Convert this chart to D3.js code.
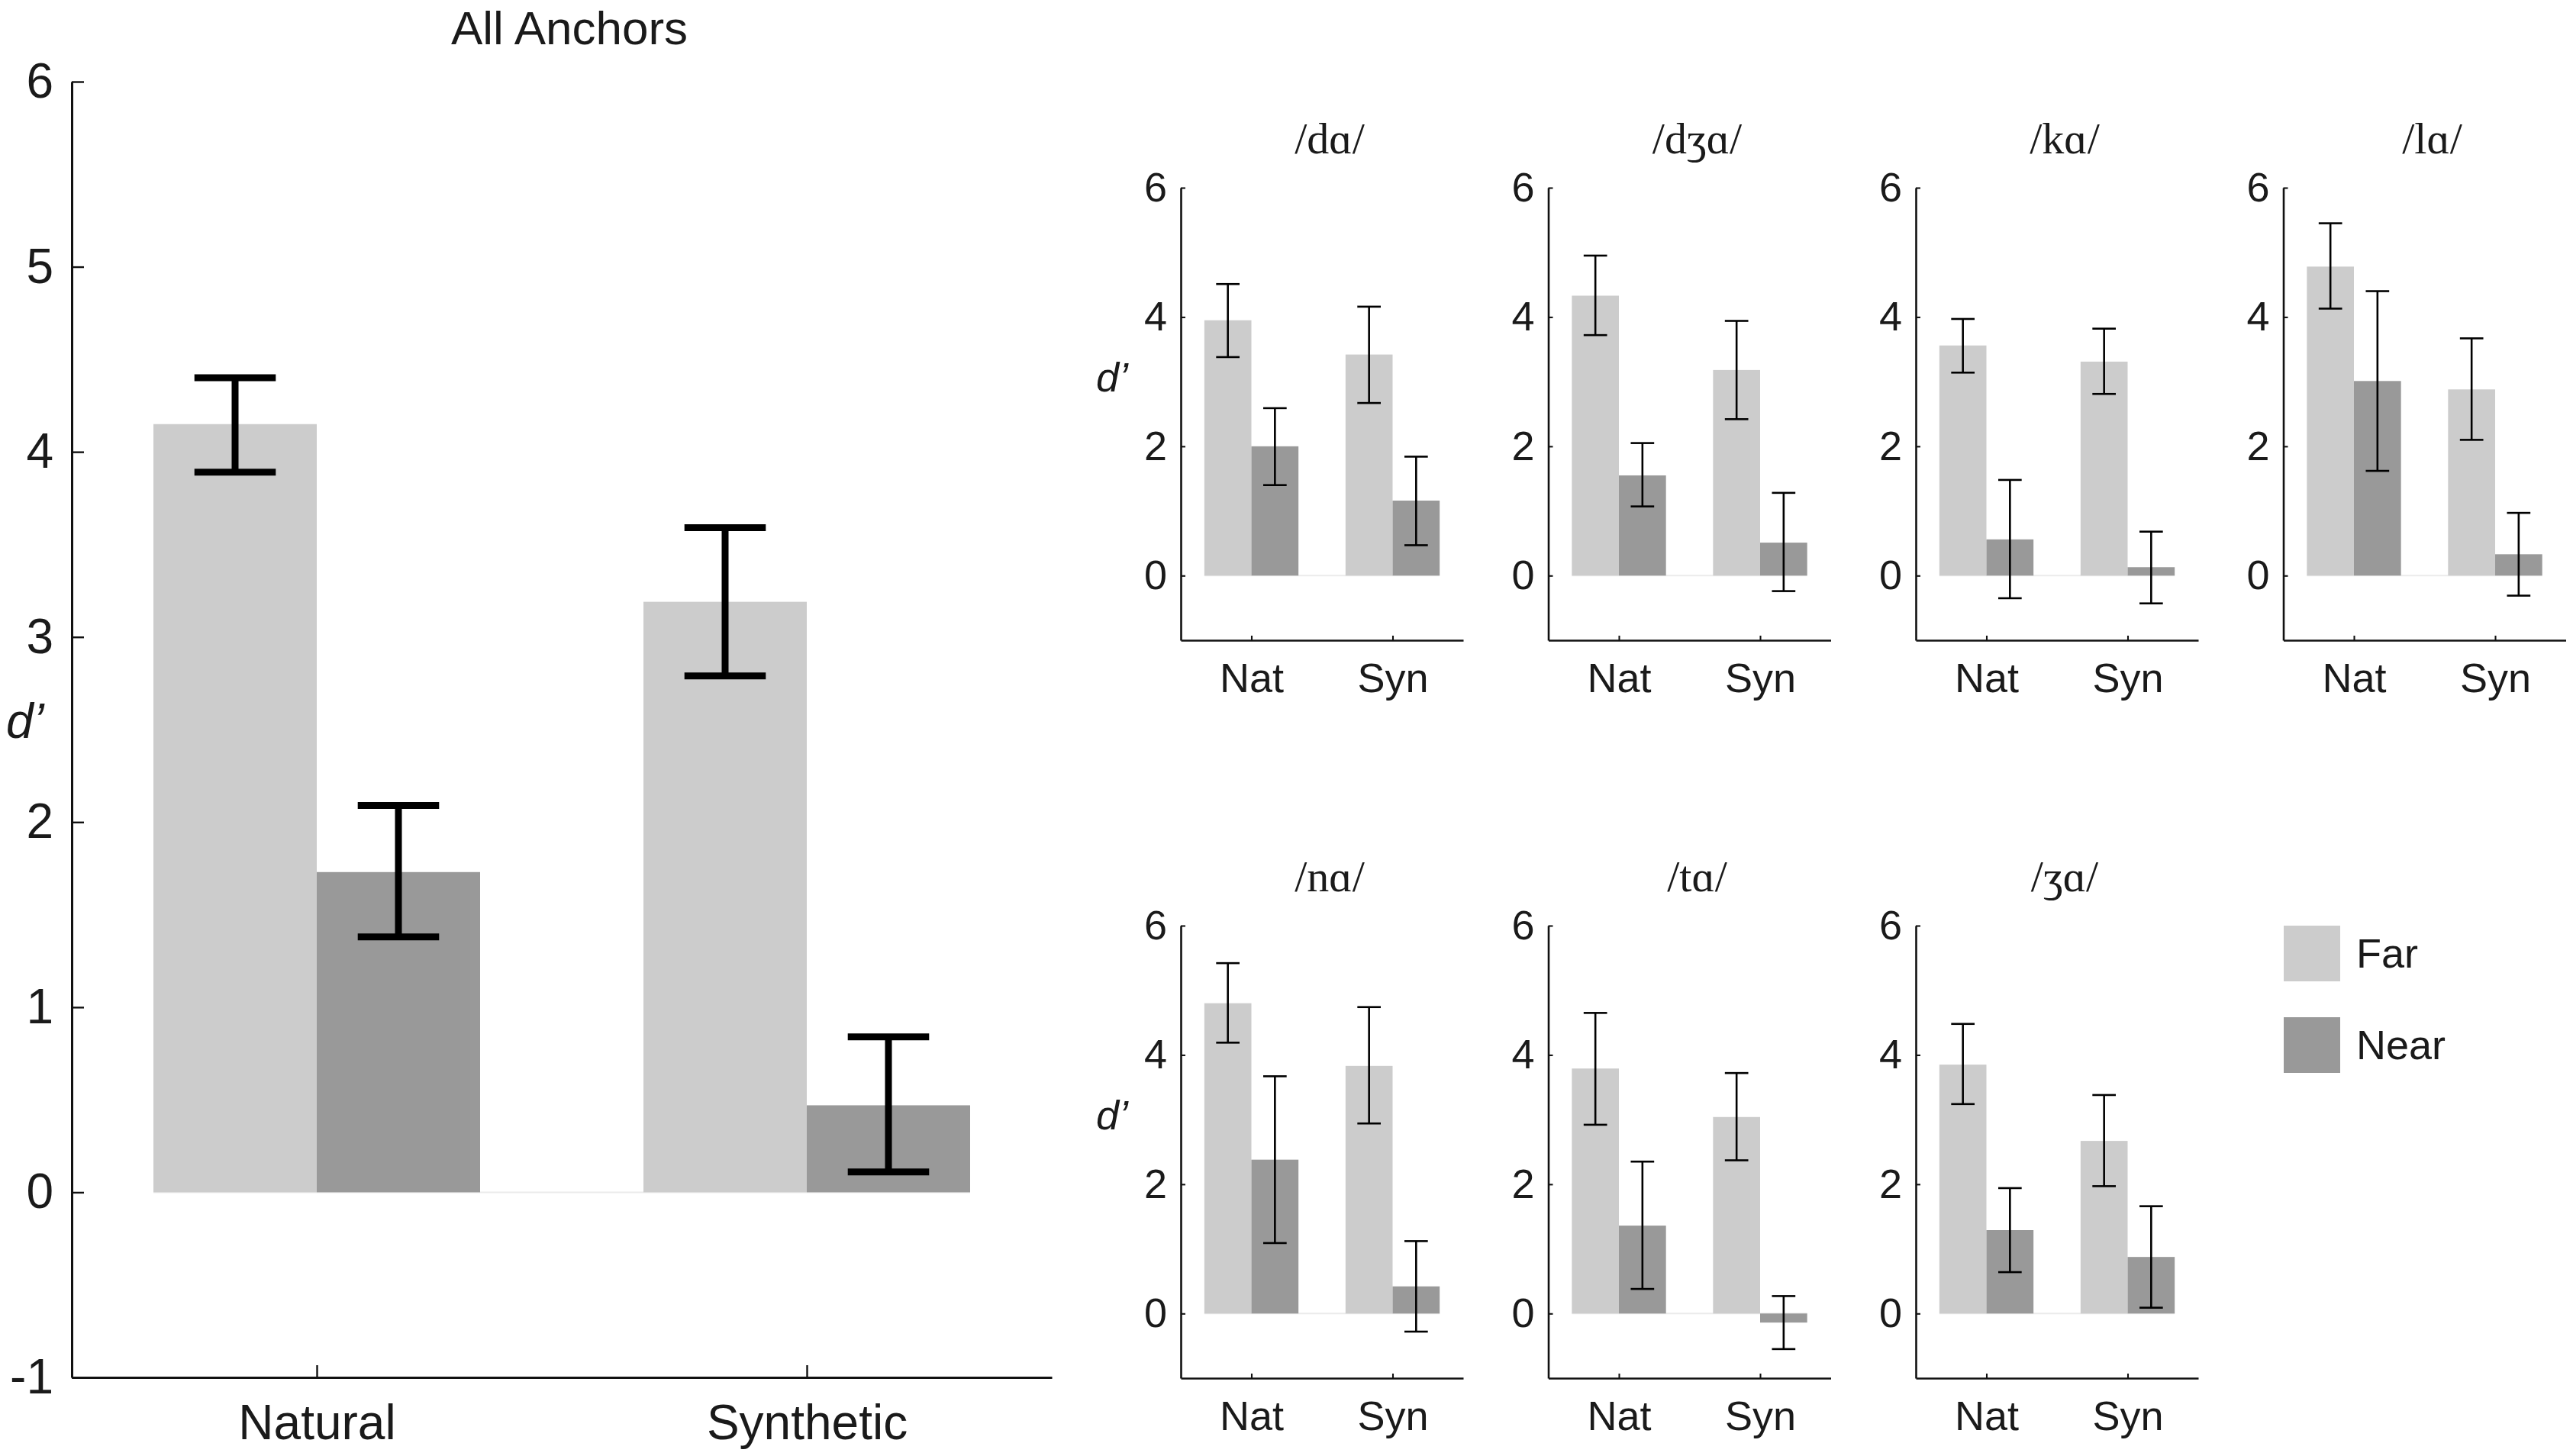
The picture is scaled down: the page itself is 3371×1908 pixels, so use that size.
<!DOCTYPE html>
<html>
<head>
<meta charset="utf-8">
<script src="https://cdn.jsdelivr.net/npm/d3@7/dist/d3.min.js"></script>
<style>
  html, body { margin: 0; padding: 0; background: #fff; }
  svg { display: block; }
</style>
</head>
<body>
<svg id="chart" width="3371" height="1908"></svg>
<script>
// ---------------- DATA ----------------
const series = ["Far", "Near"];
const seriesColors = ["#cccccc", "#999999"];
const conditionsLong = ["Natural", "Synthetic"];
const conditionsShort = ["Nat", "Syn"];
const bigTicks = [-1, 0, 1, 2, 3, 4, 5, 6];
const smallTicks = [0, 2, 4, 6];

// All anchors (Natural, Synthetic)
const allFar    = [4.15, 3.19];
const allFarLo  = [3.89, 2.79];
const allFarHi  = [4.40, 3.59];
const allNear   = [1.73, 0.47];
const allNearLo = [1.38, 0.11];
const allNearHi = [2.09, 0.84];

// Individual anchors
const anchors   = ["/dɑ/", "/dʒɑ/", "/kɑ/", "/lɑ/", "/nɑ/", "/tɑ/", "/ʒɑ/"];
const farNat    = [3.95, 4.33, 3.56, 4.78, 4.80, 3.79, 3.85];
const farNatLo  = [3.38, 3.72, 3.14, 4.13, 4.19, 2.92, 3.24];
const farNatHi  = [4.51, 4.95, 3.97, 5.45, 5.42, 4.65, 4.48];
const nearNat   = [2.00, 1.55, 0.56, 3.01, 2.38, 1.36, 1.29];
const nearNatLo = [1.40, 1.07, -0.35, 1.62, 1.09, 0.38, 0.64];
const nearNatHi = [2.59, 2.05, 1.48, 4.40, 3.67, 2.35, 1.94];
const farSyn    = [3.42, 3.18, 3.31, 2.88, 3.83, 3.04, 2.67];
const farSynLo  = [2.67, 2.42, 2.81, 2.10, 2.94, 2.37, 1.97];
const farSynHi  = [4.16, 3.94, 3.82, 3.67, 4.74, 3.72, 3.38];
const nearSyn   = [1.16, 0.51, 0.13, 0.33, 0.42, -0.14, 0.875];
const nearSynLo = [0.47, -0.24, -0.43, -0.31, -0.28, -0.55, 0.09];
const nearSynHi = [1.84, 1.28, 0.68, 0.97, 1.12, 0.27, 1.66];

// ---------------- DRAWING ----------------
const svg = d3.select("#chart");
const SANS = "'Liberation Sans', Arial, Helvetica, sans-serif";
const SERIF = "'Liberation Serif', 'DejaVu Serif', 'Times New Roman', serif";
const TEXT = "#1a1a1a";

function drawPanel(o) {
  const g = svg.append("g");
  const x = d3.scaleLinear().domain([0.5, 2.5]).range([o.x0, o.x1]);
  const y = d3.scaleLinear().domain([-1, 6]).range([o.yBottom, o.yTop]);
  const bw = 1 / 3;

  const rows = [];
  for (let c = 0; c < 2; c++) {
    rows.push({ c: c + 1, s: 0, v: o.far[c], lo: o.farLo[c], hi: o.farHi[c] });
    rows.push({ c: c + 1, s: 1, v: o.near[c], lo: o.nearLo[c], hi: o.nearHi[c] });
  }

  // faint baseline
  g.append("line")
    .attr("x1", x(1 - bw)).attr("x2", x(2 + bw))
    .attr("y1", y(0)).attr("y2", y(0))
    .attr("stroke", "#ebebeb").attr("stroke-width", 2);

  // bars
  g.selectAll("rect.bar").data(rows).join("rect")
    .attr("class", "bar")
    .attr("x", d => x(d.c - bw + d.s * bw))
    .attr("width", d => x(d.c + d.s * bw) - x(d.c - bw + d.s * bw))
    .attr("y", d => y(Math.max(0, d.v)))
    .attr("height", d => Math.abs(y(d.v) - y(0)))
    .attr("fill", d => seriesColors[d.s]);

  // error bars
  const cap = 0.083;
  const eg = g.selectAll("g.err").data(rows).join("g").attr("class", "err")
    .attr("stroke", "#000").attr("stroke-width", o.errW).attr("fill", "none");
  const cx = d => d.c - bw / 2 + d.s * bw;
  eg.append("line").attr("x1", d => x(cx(d))).attr("x2", d => x(cx(d)))
    .attr("y1", d => y(d.lo)).attr("y2", d => y(d.hi));
  eg.append("line").attr("x1", d => x(cx(d) - cap)).attr("x2", d => x(cx(d) + cap))
    .attr("y1", d => y(d.lo)).attr("y2", d => y(d.lo));
  eg.append("line").attr("x1", d => x(cx(d) - cap)).attr("x2", d => x(cx(d) + cap))
    .attr("y1", d => y(d.hi)).attr("y2", d => y(d.hi));

  // axes
  const yAxis = d3.axisLeft(y).tickValues(o.yTicks).tickFormat(d3.format("d"))
    .tickSize(-o.tickLen).tickSizeOuter(0).tickPadding(o.yPad);
  const ya = g.append("g").attr("transform", `translate(${o.x0},0)`).call(yAxis);
  const xAxis = d3.axisBottom(x).tickValues([1, 2]).tickFormat(d => o.xLabels[d - 1])
    .tickSize(-o.tickLen).tickSizeOuter(0).tickPadding(o.xPad);
  const xa = g.append("g").attr("transform", `translate(0,${o.yBottom})`).call(xAxis);
  [ya, xa].forEach(a => {
    a.select(".domain").attr("stroke", "#111").attr("stroke-width", o.axisW);
    a.selectAll(".tick line").attr("stroke", "#111").attr("stroke-width", o.axisW * 0.8);
    a.selectAll(".tick text").attr("fill", TEXT)
      .style("font-family", SANS).style("font-size", o.fs + "px");
  });
  ya.selectAll(".tick text").text(d => d < 0 ? "-" + Math.abs(d) : d);

  // title
  g.append("text")
    .attr("x", (o.x0 + o.x1) / 2 + 10).attr("y", o.titleY)
    .attr("text-anchor", "middle").attr("fill", TEXT)
    .style("font-family", o.titleFont).style("font-size", o.titleFs + "px")
    .text(o.title);

  // d' label
  if (o.dLabel) {
    g.append("text")
      .attr("x", o.dLabel[0]).attr("y", o.dLabel[1])
      .attr("fill", TEXT)
      .style("font-family", SANS).style("font-style", "italic")
      .style("font-size", o.fs + "px")
      .text("d’");
  }
}

// Large "All Anchors" panel
drawPanel({
  x0: 94, x1: 1378, yTop: 107, yBottom: 1805,
  far: allFar, farLo: allFarLo, farHi: allFarHi,
  near: allNear, nearLo: allNearLo, nearHi: allNearHi,
  yTicks: bigTicks, xLabels: conditionsLong,
  tickLen: 16, yPad: 24, xPad: 36, fs: 64, axisW: 3, errW: 9,
  title: "All Anchors", titleY: 58, titleFont: SANS, titleFs: 62,
  dLabel: [8, 967]
});

// Small panels
const colX = [1547, 2028.5, 2510, 2991.5];
const rowTop = [246, 1213];
const panelW = 370, plotH = 593;
anchors.forEach((name, i) => {
  const r = i < 4 ? 0 : 1;
  const c = i < 4 ? i : i - 4;
  drawPanel({
    x0: colX[c], x1: colX[c] + panelW, yTop: rowTop[r], yBottom: rowTop[r] + plotH,
    far: [farNat[i], farSyn[i]], farLo: [farNatLo[i], farSynLo[i]], farHi: [farNatHi[i], farSynHi[i]],
    near: [nearNat[i], nearSyn[i]], nearLo: [nearNatLo[i], nearSynLo[i]], nearHi: [nearNatHi[i], nearSynHi[i]],
    yTicks: smallTicks, xLabels: conditionsShort,
    tickLen: 6, yPad: 18, xPad: 30, fs: 54, axisW: 2.6, errW: 2.6,
    title: name, titleY: rowTop[r] - 45, titleFont: SERIF, titleFs: 58,
    dLabel: c === 0 ? [1436, rowTop[r] + 267] : null
  });
});

// Legend
const legend = svg.append("g");
const legY = [1213, 1333];
series.forEach((s, i) => {
  legend.append("rect")
    .attr("x", 2992).attr("y", legY[i]).attr("width", 74).attr("height", 73)
    .attr("fill", seriesColors[i]);
  legend.append("text")
    .attr("x", 3087).attr("y", legY[i] + 55)
    .attr("fill", TEXT)
    .style("font-family", SANS).style("font-size", "54px")
    .text(s);
});
</script>
</body>
</html>
